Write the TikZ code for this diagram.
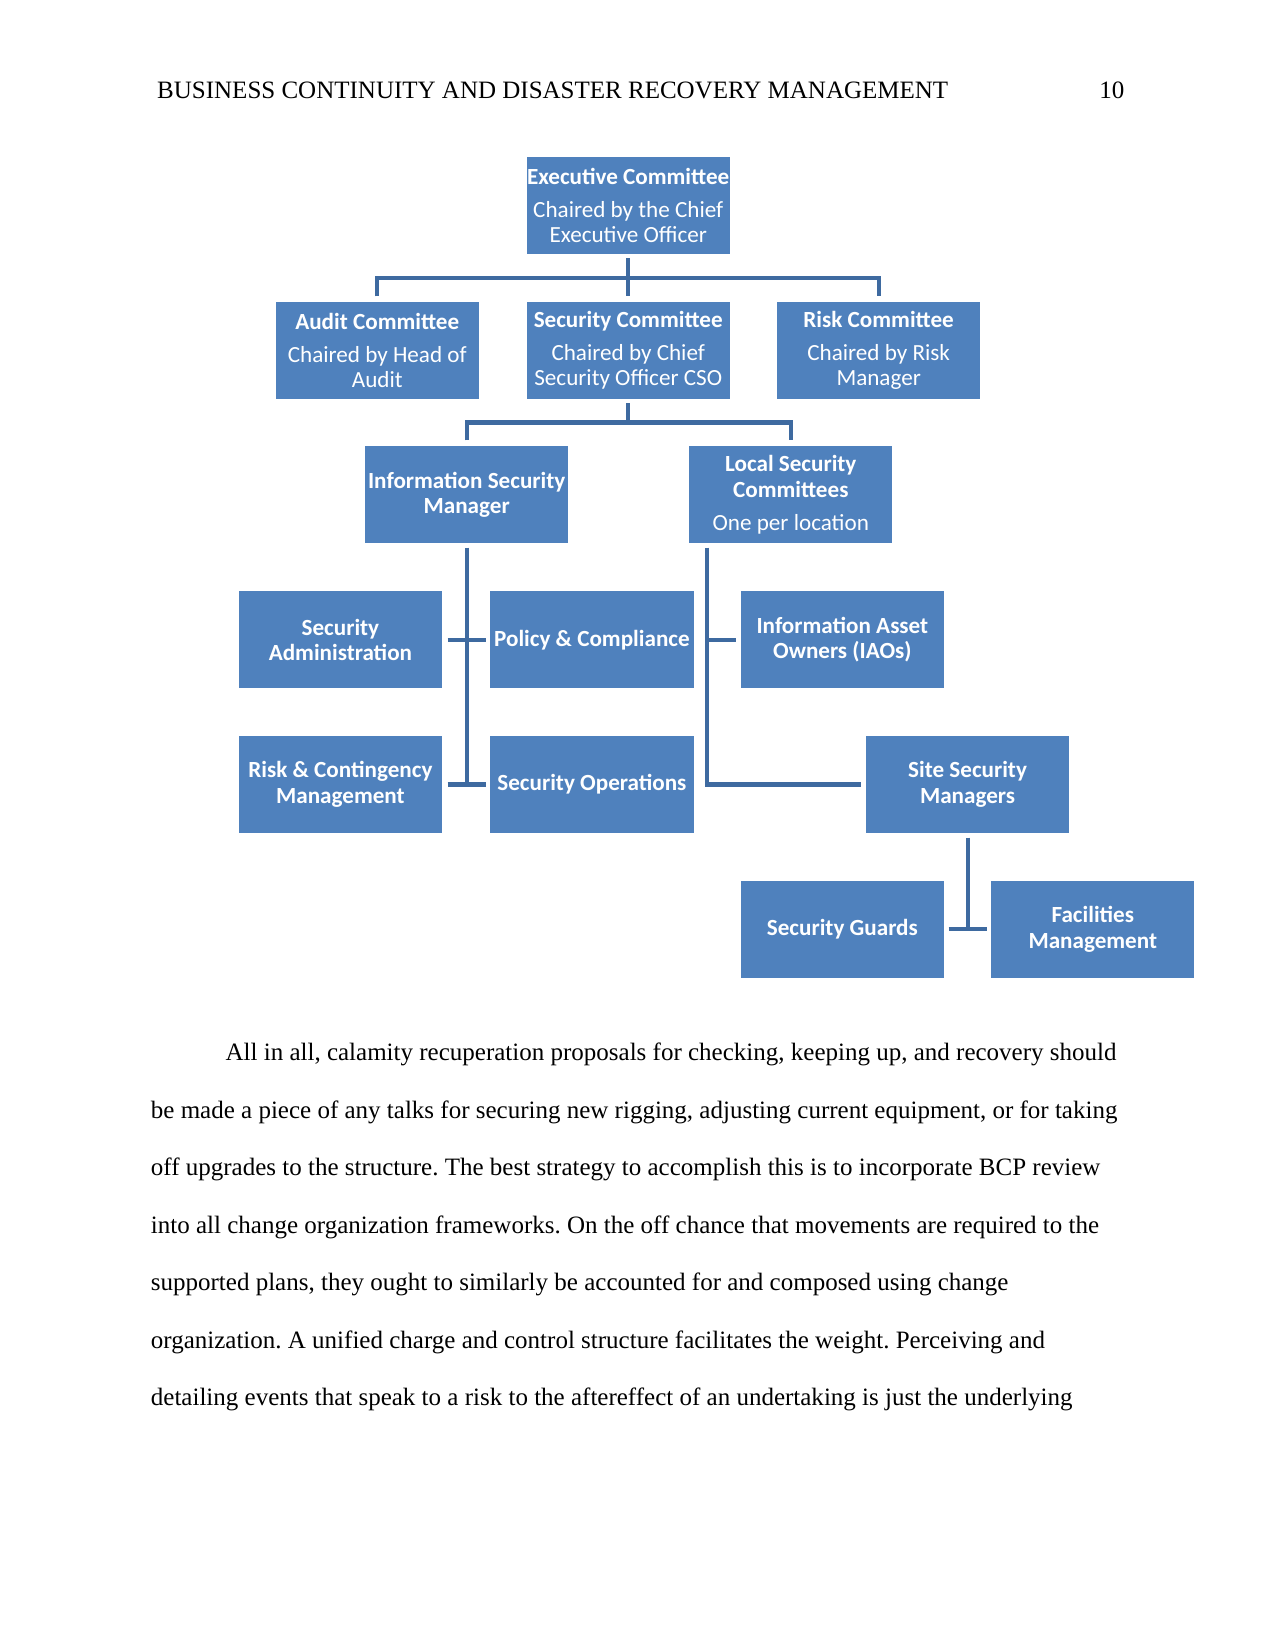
\documentclass[tikz,border=0pt]{standalone}
\usepackage{fontspec}
\setmainfont{Liberation Serif}
\newfontfamily\boxfont{Carlito}
\usetikzlibrary{calc}
\definecolor{boxblue}{RGB}{79,129,189}
\definecolor{lineblue}{RGB}{62,106,160}
\frenchspacing
\begin{document}
\begin{tikzpicture}[x=0.505pt,y=-0.505pt,
  orgbox/.style={fill=boxblue, draw=none, minimum width=97.5pt, minimum height=46.5pt,
    inner sep=0pt, align=center, text=white, font=\boxfont\fontsize{11.1}{12.2}\selectfont},
  conn/.style={draw=lineblue, line width=2pt},
  body/.style={anchor=base west, inner sep=0pt, font=\fontsize{12}{14}\selectfont}]
\useasboundingbox[fill=white] (0,0) rectangle (1212,1568);

% header
\node[body] (hdr) at (149,94) {BUSINESS CONTINUITY AND DISASTER RECOVERY MANAGEMENT};
\node[body, anchor=base east] (pg) at (1069,94) {10};

% boxes
\node[orgbox] (exec) at (597,195) {\textbf{Executive Committee}\\[3.6pt]Chaired by the Chief\\Executive Officer};
\node[orgbox] (audit) at (358.5,333) {\textbf{Audit Committee}\\[3.6pt]Chaired by Head of\\Audit};
\node[orgbox] (sec) at (597,333) {\textbf{Security Committee}\\[3.6pt]Chaired by Chief\\Security Officer CSO};
\node[orgbox] (risk) at (835,333) {\textbf{Risk Committee}\\[3.6pt]Chaired by Risk\\Manager};
\node[orgbox] (ism) at (443.5,470) {\textbf{Information Security}\\\textbf{Manager}};
\node[orgbox] (local) at (751.5,470) {\textbf{Local Security}\\\textbf{Committees}\\[3.6pt]One per location};
\node[orgbox] (secadm) at (323.5,608) {\textbf{Security}\\\textbf{Administration}};
\node[orgbox] (policy) at (562.5,608) {\textbf{Policy \& Compliance}};
\node[orgbox] (iao) at (800.5,608) {\textbf{Information Asset}\\\textbf{Owners (IAOs)}};
\node[orgbox] (riskc) at (323.5,745.5) {\textbf{Risk \& Contingency}\\\textbf{Management}};
\node[orgbox] (secops) at (562.5,745.5) {\textbf{Security Operations}};
\node[orgbox] (site) at (919.5,745.5) {\textbf{Site Security}\\\textbf{Managers}};
\node[orgbox] (guards) at (800.5,883) {\textbf{Security Guards}};
\node[orgbox] (fac) at (1038.5,883) {\textbf{Facilities}\\\textbf{Management}};

% connectors
\draw[conn] ($(exec.south)+(0,4)$) -- ($(sec.north)+(0,-5)$);
\draw[conn] ($(audit.north)+(0,-5)$) |- ($(exec.south)!0.5!(sec.north)$) -| ($(risk.north)+(0,-5)$);
\draw[conn] ($(sec.south)+(0,4)$) -- ($(sec.south)!0.5!(sec.south |- ism.north)$);
\draw[conn] ($(ism.north)+(0,-5)$) |- ($(sec.south)!0.5!(sec.south |- ism.north)$) -| ($(local.north)+(0,-5)$);

\draw[conn] ($(ism.south)+(0,4)$) -- (ism.south |- riskc.east);
\draw[conn] ($(secadm.east)+(5,0)$) -- ($(policy.west)+(-4,0)$);
\draw[conn] ($(riskc.east)+(5,0)$) -- ($(secops.west)+(-4,0)$);

\coordinate (lx) at ($(local.south west)+(17,4)$);
\draw[conn] (lx) |- ($(site.west)+(-4,0)$);
\draw[conn] (lx |- iao.west) -- ($(iao.west)+(-4,0)$);

\draw[conn] ($(site.south)+(0,4)$) -- (site.south |- guards.east);
\draw[conn] ($(guards.east)+(4,0)$) -- ($(fac.west)+(-4,0)$);

% body text
\node[body] (l1) at (214,1008) {All in all, calamity recuperation proposals for checking, keeping up, and recovery should};
\node[body] (l2) at (143,1063) {be made a piece of any talks for securing new rigging, adjusting current equipment, or for taking};
\node[body] (l3) at (143,1117) {off upgrades to the structure. The best strategy to accomplish this is to incorporate BCP review};
\node[body] (l4) at (143,1172) {into all change organization frameworks. On the off chance that movements are required to the};
\node[body] (l5) at (143,1226) {supported plans, they ought to similarly be accounted for and composed using change};
\node[body] (l6) at (143,1281) {organization. A unified charge and control structure facilitates the weight. Perceiving and};
\node[body] (l7) at (143,1336) {detailing events that speak to a risk to the aftereffect of an undertaking is just the underlying};
\end{tikzpicture}
\end{document}
